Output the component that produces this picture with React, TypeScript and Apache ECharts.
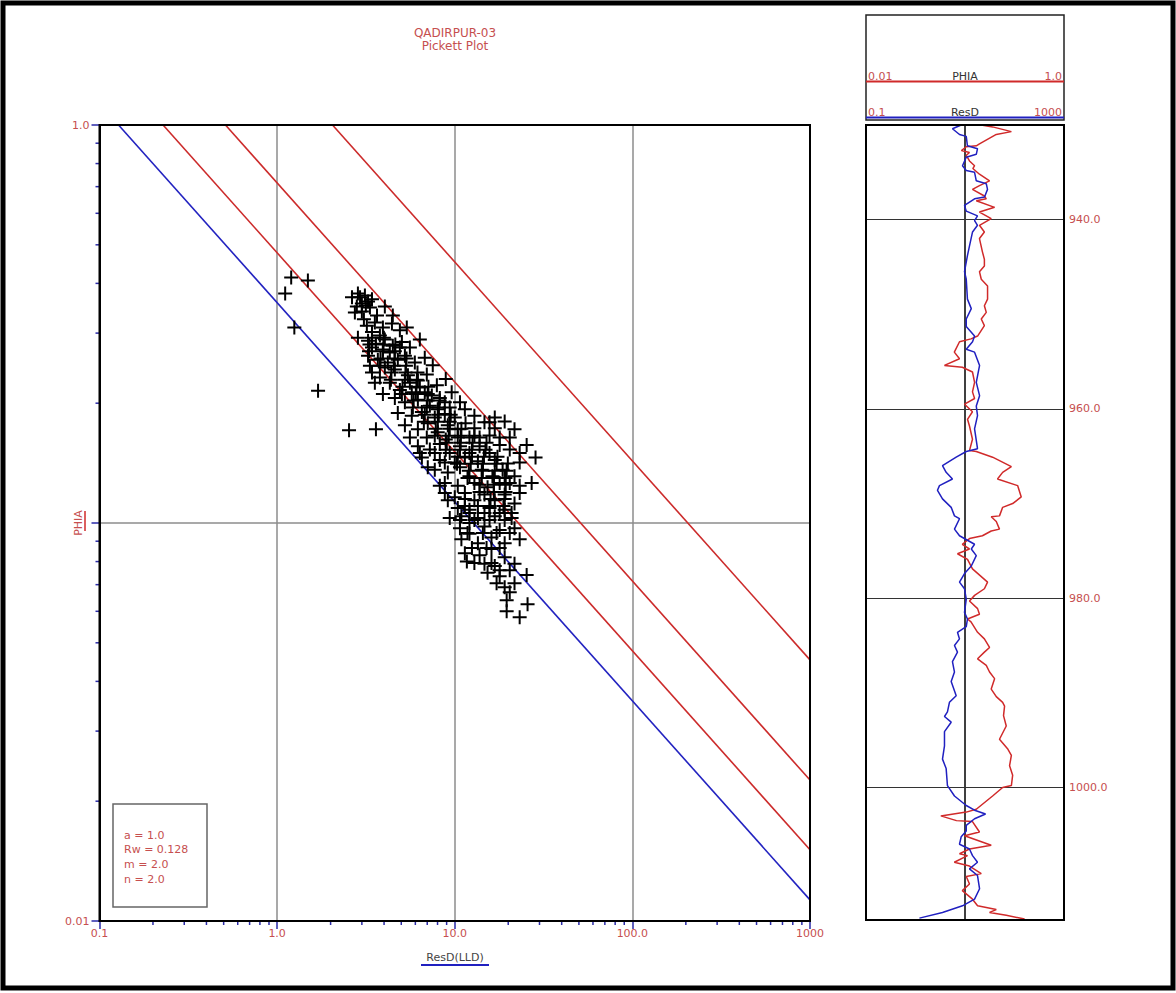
import React, { useEffect, useRef } from 'react';
import * as echarts from 'echarts';

// ---------- text ----------
const titleLines = ['QADIRPUR-03', 'Pickett Plot'];
const paramLines = ['a = 1.0', 'Rw = 0.128', 'm = 2.0', 'n = 2.0'];
const resdTickLabels: Record<string, string> = { '-1': '0.1', '0': '1.0', '1': '10.0', '2': '100.0', '3': '1000' };
const phiaTickLabels: Record<string, string> = { '0': '1.0', '-2': '0.01' };
const minorMultipliers = [2, 3, 4, 5, 6, 7, 8, 9];
const resdDecades = [0.1, 1, 10, 100];
const phiaDecades = [0.01, 0.1];
const depthTicks = [940, 960, 980, 1000];

// ---------- Sw lines (a=1, Rw=0.128, m=2, n=2) : Sw = 1.0, 0.75, 0.5, 0.25 ----------
const swNames = ['Sw 1.0', 'Sw 0.75', 'Sw 0.5', 'Sw 0.25'];
const swLineStartResD = [0.128, 0.228, 0.512, 2.05]; // ResD where PHIA = 1.0
const swLineEndPhia = [0.0113, 0.0151, 0.0226, 0.0453]; // PHIA where ResD = 1000
const swLineColors = ['#2323c0', '#cc2b2b', '#cc2b2b', '#cc2b2b'];

// ---------- crossplot points [ResD, PHIA] ----------
const scatterPoints: [number, number][] = [
  [1.20, 0.414], [1.49, 0.407], [1.11, 0.377], [1.25, 0.310], [1.70, 0.215], [2.54, 0.171], [3.60, 0.172],
  [2.93, 0.369], [3.12, 0.373], [3.25, 0.360], [2.81, 0.350], [3.00, 0.356], [2.74, 0.338], [3.42, 0.365], [4.04, 0.350], [4.48, 0.332],
  [3.20, 0.313], [3.55, 0.319], [3.94, 0.310], [4.43, 0.317], [4.91, 0.305], [5.37, 0.310], [3.42, 0.302], [3.79, 0.296],
  [3.25, 0.287], [3.60, 0.282], [4.04, 0.289], [4.48, 0.279], [5.04, 0.285], [5.59, 0.276], [6.36, 0.289], [4.31, 0.268],
  [3.25, 0.263], [3.69, 0.257], [4.78, 0.257], [5.24, 0.263], [5.96, 0.253], [6.78, 0.260], [7.52, 0.249], [4.04, 0.246], [4.60, 0.243], [3.42, 0.239],
  [3.79, 0.232], [4.31, 0.225], [5.45, 0.235], [6.20, 0.228], [6.96, 0.236], [7.93, 0.222], [8.90, 0.230], [4.91, 0.216], [5.73, 0.213], [6.78, 0.213], [4.60, 0.206],
  [5.24, 0.201], [6.20, 0.204], [7.24, 0.197], [8.24, 0.206], [9.37, 0.195], [10.7, 0.201], [4.78, 0.189], [5.73, 0.186], [6.53, 0.190], [7.72, 0.184], [8.79, 0.188], [10.0, 0.184],
  [5.24, 0.176], [6.20, 0.172], [7.05, 0.178], [8.02, 0.169], [9.14, 0.176], [10.4, 0.172], [11.5, 0.178], [12.9, 0.173], [14.7, 0.179], [16.8, 0.173], [19.1, 0.180], [21.7, 0.172],
  [6.96, 0.164], [8.90, 0.162], [12.1, 0.164], [15.7, 0.166],
  [6.20, 0.156], [7.24, 0.153], [8.24, 0.158], [9.37, 0.150], [10.7, 0.156], [12.1, 0.150], [13.8, 0.156], [15.7, 0.150], [17.9, 0.157], [20.4, 0.153], [25.4, 0.157], [28.5, 0.146],
  [6.53, 0.146], [8.24, 0.144], [10.0, 0.142], [11.4, 0.146], [13.5, 0.143], [16.8, 0.144], [19.9, 0.141],
  [7.72, 0.136], [9.14, 0.134], [10.7, 0.138], [12.1, 0.131], [14.2, 0.136], [16.3, 0.131], [18.6, 0.136], [21.7, 0.131], [27.1, 0.126],
  [8.79, 0.126], [10.4, 0.124], [12.9, 0.126], [15.3, 0.123], [17.9, 0.126],
  [8.79, 0.119], [10.0, 0.116], [11.4, 0.119], [12.9, 0.114], [14.7, 0.118], [16.8, 0.114], [19.1, 0.118], [21.7, 0.112],
  [10.4, 0.109], [12.1, 0.108], [15.7, 0.109], [19.1, 0.108],
  [10.9, 0.104], [13.5, 0.103], [16.8, 0.104], [20.9, 0.103], [10.7, 0.097], [12.1, 0.094], [14.7, 0.098], [17.9, 0.096], [21.7, 0.097],
  [10.9, 0.091], [13.5, 0.089], [16.1, 0.092], [19.1, 0.089], [23.2, 0.091],
  [11.4, 0.084], [13.8, 0.083], [16.1, 0.086], [19.1, 0.082], [11.7, 0.080], [14.7, 0.079], [16.8, 0.078],
  [17.9, 0.0735], [25.4, 0.074], [19.1, 0.069], [20.4, 0.067], [19.6, 0.064], [25.7, 0.0625], [19.6, 0.060], [23.2, 0.058],
  [3.42, 0.276], [3.94, 0.273], [4.91, 0.276], [4.20, 0.253], [5.59, 0.225], [6.36, 0.219], [7.43, 0.209], [8.79, 0.201], [9.61, 0.213],
  [8.02, 0.193], [11.4, 0.193], [12.9, 0.186], [10.4, 0.164], [13.8, 0.164], [17.9, 0.164], [7.72, 0.150], [8.79, 0.142], [23.2, 0.142],
  [20.4, 0.126], [23.2, 0.119], [9.37, 0.103], [12.1, 0.100], [15.3, 0.075], [21.7, 0.079],
  // dense core of the band
  [2.85, 0.292], [3.42, 0.292], [3.99, 0.292], [3.31, 0.281], [3.97, 0.281], [4.63, 0.281],
  [3.29, 0.270], [3.94, 0.270], [4.60, 0.270], [3.82, 0.259], [4.58, 0.259], [5.35, 0.259],
  [3.79, 0.2485], [4.54, 0.2485], [5.31, 0.2485], [4.40, 0.2387], [5.28, 0.2387], [6.17, 0.2387],
  [4.37, 0.229], [5.24, 0.229], [6.12, 0.229], [5.08, 0.220], [6.09, 0.220], [7.11, 0.220],
  [5.04, 0.211], [6.04, 0.211], [7.05, 0.211], [5.87, 0.203], [7.03, 0.203], [8.22, 0.203],
  [5.81, 0.195], [6.96, 0.195], [8.13, 0.195], [6.78, 0.187], [8.13, 0.187], [9.49, 0.187],
  [6.70, 0.1797], [8.03, 0.1797], [9.37, 0.1797], [7.82, 0.1725], [9.37, 0.1725], [10.9, 0.1725],
  [7.72, 0.1657], [9.25, 0.1657], [10.8, 0.1657], [12.9, 0.1657], [9.02, 0.159], [10.8, 0.159], [12.6, 0.159], [15.1, 0.159],
  [8.90, 0.1527], [10.7, 0.1527], [12.5, 0.1527], [14.9, 0.1527], [10.4, 0.1467], [12.5, 0.1467], [14.6, 0.1467], [17.4, 0.1467],
  [10.3, 0.1409], [12.3, 0.1409], [14.4, 0.1409], [17.2, 0.1409], [12.0, 0.1352], [14.4, 0.1352], [16.8, 0.1352], [19.6, 0.1352],
  [11.8, 0.1298], [14.2, 0.1298], [16.6, 0.1298], [19.3, 0.1298], [13.8, 0.1247], [16.6, 0.1247], [19.3, 0.1247],
  [13.8, 0.1197], [16.6, 0.1197], [19.3, 0.1197], [15.9, 0.1149], [19.1, 0.1149], [11.4, 0.1149],
  [15.7, 0.1103], [18.8, 0.1103], [11.4, 0.1103], [13.5, 0.1103], [12.1, 0.106], [14.7, 0.106], [17.9, 0.106], [20.9, 0.106],
  [10.7, 0.1018], [12.9, 0.1018], [15.7, 0.1018], [19.1, 0.1018], [11.8, 0.0944], [14.4, 0.0944], [17.2, 0.0944], [20.4, 0.0944],
  [12.5, 0.0865], [15.1, 0.0865], [17.9, 0.0865], [12.9, 0.0793], [16.1, 0.0793], [17.9, 0.0761], [20.4, 0.0761],
  [17.2, 0.0706], [21.7, 0.0706],
  [2.64, 0.369], [2.85, 0.377], [3.16, 0.352], [3.00, 0.340], [3.33, 0.348], [3.65, 0.332], [3.08, 0.325],
  [3.33, 0.2485], [3.55, 0.225], [3.94, 0.211],
  [5.59, 0.164], [6.36, 0.150], [7.05, 0.138], [8.24, 0.124], [9.14, 0.114],
  [16.8, 0.184], [20.4, 0.164], [23.2, 0.150], [19.1, 0.130], [23.2, 0.124], [15.7, 0.179],
];

// ---------- depth track curves [depth, value] ----------
const depthPhia: [number, number][] = [
  [930.0, 0.146], [930.2, 0.190], [930.7, 0.294], [931.0, 0.207], [932.0, 0.140], [932.2, 0.130], [932.3, 0.103], [932.7, 0.092],
  [932.9, 0.111], [933.2, 0.103], [933.8, 0.111], [934.3, 0.125], [934.6, 0.120], [935.2, 0.140], [935.9, 0.177], [936.4, 0.140],
  [936.8, 0.119], [937.5, 0.157], [937.8, 0.164], [938.0, 0.130], [938.7, 0.199], [939.2, 0.140], [939.9, 0.184], [940.6, 0.140],
  [941.3, 0.157], [942.0, 0.140], [943.4, 0.150], [944.2, 0.157], [944.9, 0.157], [945.5, 0.140], [946.3, 0.146], [947.0, 0.169],
  [948.4, 0.169], [949.1, 0.157], [949.8, 0.164], [950.5, 0.146], [951.2, 0.157], [952.3, 0.134], [952.6, 0.115], [952.9, 0.088],
  [954.0, 0.078], [954.7, 0.088], [955.4, 0.062], [955.6, 0.094], [956.1, 0.119], [957.2, 0.125], [958.2, 0.119], [958.9, 0.125],
  [959.5, 0.099], [960.3, 0.119], [961.1, 0.106], [961.8, 0.111], [963.2, 0.119], [964.4, 0.111], [964.5, 0.130], [965.1, 0.190],
  [966.1, 0.294], [966.7, 0.240], [967.4, 0.213], [968.1, 0.340], [969.3, 0.370], [970.0, 0.303], [970.4, 0.240], [971.3, 0.223],
  [971.4, 0.184], [971.9, 0.207], [972.7, 0.223], [972.9, 0.184], [973.4, 0.150], [973.7, 0.111], [974.3, 0.094], [974.8, 0.111],
  [975.3, 0.084], [975.9, 0.106], [976.9, 0.119], [978.3, 0.169], [979.0, 0.157], [979.7, 0.125], [980.3, 0.111], [981.1, 0.134],
  [981.7, 0.140], [982.2, 0.106], [982.5, 0.115], [983.6, 0.134], [984.3, 0.157], [985.2, 0.177], [985.7, 0.157], [986.4, 0.134],
  [987.1, 0.164], [987.8, 0.177], [988.5, 0.199], [989.6, 0.184], [990.4, 0.207], [991.0, 0.240], [991.4, 0.251], [992.4, 0.245],
  [993.5, 0.261], [994.9, 0.223], [995.9, 0.269], [996.6, 0.294], [997.7, 0.282], [998.7, 0.303], [999.8, 0.294], [1000.0, 0.240],
  [1000.9, 0.190], [1002.3, 0.130], [1002.6, 0.103], [1003.0, 0.057], [1003.5, 0.082], [1003.6, 0.119], [1004.7, 0.140], [1005.1, 0.099],
  [1006.1, 0.184], [1006.5, 0.111], [1007.0, 0.088], [1007.2, 0.106], [1007.9, 0.078], [1008.3, 0.111], [1009.1, 0.146], [1009.4, 0.103],
  [1010.2, 0.111], [1010.9, 0.094], [1011.8, 0.119], [1012.5, 0.134], [1012.9, 0.207], [1013.2, 0.177], [1013.5, 0.261], [1013.9, 0.400],
];

const depthResd: [number, number][] = [
  [930.0, 8.38], [930.4, 5.58], [931.0, 7.74], [931.2, 10.6], [932.2, 11.2], [932.5, 17.9], [933.1, 16.9], [933.4, 10.6],
  [934.3, 8.90], [934.8, 10.6], [935.0, 15.6], [935.9, 16.9], [936.2, 26.9], [936.8, 28.5], [937.6, 24.8], [937.8, 15.6],
  [938.5, 9.77], [939.1, 10.6], [939.6, 17.9], [940.1, 15.6], [940.6, 17.9], [941.3, 14.2], [942.8, 12.3], [943.8, 11.2],
  [945.5, 9.77], [946.3, 10.6], [948.4, 11.2], [949.4, 13.4], [950.5, 10.6], [951.3, 10.6], [952.3, 15.6], [952.9, 14.2],
  [953.7, 10.6], [954.0, 15.6], [955.4, 19.7], [957.2, 16.9], [958.6, 19.7], [959.7, 16.9], [960.7, 17.9], [962.1, 15.6],
  [964.2, 17.9], [964.5, 10.6], [965.1, 6.64], [966.0, 3.51], [966.7, 4.16], [967.4, 5.58], [968.1, 3.05], [968.6, 2.78],
  [969.5, 3.51], [970.4, 5.26], [971.3, 6.13], [971.6, 7.74], [972.7, 6.13], [973.4, 7.74], [974.3, 15.6], [974.8, 13.4],
  [975.5, 16.9], [976.6, 13.4], [977.4, 9.77], [978.3, 7.74], [979.0, 9.77], [980.1, 10.6], [981.5, 9.77], [982.2, 11.2],
  [983.0, 10.6], [983.6, 7.05], [984.3, 7.74], [985.0, 6.13], [985.7, 7.05], [986.7, 5.58], [987.8, 6.13], [988.8, 5.26],
  [990.3, 6.64], [991.0, 4.85], [992.0, 4.42], [992.5, 3.85], [993.1, 5.26], [994.1, 3.85], [995.6, 3.85], [997.0, 3.51],
  [998.0, 4.16], [999.8, 4.42], [1000.9, 6.13], [1001.9, 10.6], [1002.4, 15.6], [1002.8, 26.0], [1003.3, 15.6], [1004.0, 10.6],
  [1004.6, 10.6], [1005.2, 8.38], [1006.0, 7.74], [1006.5, 12.3], [1007.2, 14.2], [1007.9, 17.9], [1008.6, 12.3], [1009.3, 17.9],
  [1010.7, 19.7], [1011.8, 15.6], [1012.5, 8.90], [1013.2, 3.51], [1013.8, 1.20],
];

// ---------- styling ----------
const RED_TEXT = '#c64f4f';
const TICK_BLUE = '#2a2aa8';
const CURVE_RED = '#d02a2a';
const CURVE_BLUE = '#2020c0';
const FONT = '"DejaVu Sans", "Liberation Sans", Arial, sans-serif';

const MAIN = { left: 99.5, top: 125, width: 710.5, height: 796 };
const TRACK = { left: 866, top: 125, width: 198, height: 795 };

const xMinor: number[] = [];
resdDecades.forEach((d) => minorMultipliers.forEach((m) => xMinor.push(d * m)));
const yMinor: number[] = [];
phiaDecades.forEach((d) => minorMultipliers.forEach((m) => yMinor.push(d * m)));

function buildOption(): any {
  const txt = (text: string, x: number, y: number, fill: string, align = 'left', size = 11, extra: any = {}) => ({
    type: 'text',
    x,
    y,
    silent: true,
    ...extra,
    style: {
      text,
      fill,
      font: `${size}px ${FONT}`,
      align,
      verticalAlign: 'middle',
      textAlign: align,
      textVerticalAlign: 'middle',
    },
  });
  const ln = (x1: number, y1: number, x2: number, y2: number, stroke: string, lineWidth: number) => ({
    type: 'line',
    silent: true,
    shape: { x1, y1, x2, y2 },
    style: { stroke, lineWidth },
  });

  const graphics: any[] = [
    { type: 'rect', silent: true, shape: { x: 3, y: 3, width: 1170, height: 985 }, style: { fill: 'none', stroke: '#000', lineWidth: 5 } },
    // plot frames drawn above the grey decade lines
    { type: 'rect', silent: true, z: 50, shape: { x: MAIN.left, y: MAIN.top, width: MAIN.width, height: MAIN.height }, style: { fill: 'none', stroke: '#000', lineWidth: 2 } },
    { type: 'rect', silent: true, z: 50, shape: { x: TRACK.left, y: TRACK.top, width: TRACK.width, height: TRACK.height }, style: { fill: 'none', stroke: '#000', lineWidth: 2 } },
    txt(titleLines[0], 455, 33, RED_TEXT, 'center', 12),
    txt(titleLines[1], 455, 46, RED_TEXT, 'center', 12),
    // parameter box
    { type: 'rect', silent: true, shape: { x: 113, y: 804, width: 94, height: 103 }, style: { fill: '#fff', stroke: '#666', lineWidth: 1.5 } },
    ...paramLines.map((p, i) => txt(p, 124, 835 + i * 14.8, RED_TEXT, 'left', 11)),
    // PHIA rotated axis name
    txt('PHIA', 78, 523, RED_TEXT, 'center', 11, { rotation: Math.PI / 2 }),
    ln(85, 511, 85, 531, CURVE_RED, 1.5),
    // ResD axis name
    txt('ResD(LLD)', 455, 957, '#444', 'center', 11),
    ln(421, 965, 489, 965, CURVE_BLUE, 2),
    // track header
    { type: 'rect', silent: true, shape: { x: 866, y: 15, width: 198, height: 105 }, style: { fill: 'none', stroke: '#222', lineWidth: 1.5 } },
    ln(866, 81.5, 1064, 81.5, CURVE_RED, 2),
    txt('0.01', 868, 76, RED_TEXT, 'left', 11),
    txt('PHIA', 965, 76, '#333', 'center', 11),
    txt('1.0', 1062, 76, RED_TEXT, 'right', 11),
    ln(866, 117.5, 1064, 117.5, CURVE_BLUE, 2),
    txt('0.1', 868, 112, RED_TEXT, 'left', 11),
    txt('ResD', 965, 112, '#333', 'center', 11),
    txt('1000', 1062, 112, RED_TEXT, 'right', 11),
  ];

  const logLabel = (map: Record<string, string>) => (v: number) => {
    const e = String(Math.round(Math.log10(v)));
    return map[e] ?? '';
  };

  const series: any[] = [];
  swNames.forEach((name, i) => {
    series.push({
      name,
      type: 'line',
      xAxisIndex: 0,
      yAxisIndex: 0,
      data: [
        [swLineStartResD[i], 1.0],
        [1000, swLineEndPhia[i]],
      ],
      showSymbol: false,
      symbol: 'none',
      lineStyle: { color: swLineColors[i], width: 1.6 },
      z: 2,
      silent: true,
    });
  });
  series.push({
    name: 'PHIA vs ResD',
    type: 'scatter',
    xAxisIndex: 0,
    yAxisIndex: 0,
    data: scatterPoints,
    symbol: 'path://M0,5L10,5M5,0L5,10',
    symbolSize: 14,
    itemStyle: { color: 'transparent', borderColor: '#000', borderWidth: 2, opacity: 1 },
    z: 4,
    silent: true,
  });
  // minor ticks drawn through the axes' scales
  series.push({
    type: 'custom',
    xAxisIndex: 0,
    yAxisIndex: 0,
    clip: false,
    silent: true,
    z: 6,
    data: xMinor.map((v) => [v, 0.01]),
    renderItem: (_p: any, api: any) => {
      const p = api.coord([api.value(0), api.value(1)]);
      return { type: 'line', shape: { x1: p[0], y1: p[1], x2: p[0], y2: p[1] + 4 }, style: { stroke: TICK_BLUE, lineWidth: 1.5 } };
    },
  });
  series.push({
    type: 'custom',
    xAxisIndex: 0,
    yAxisIndex: 0,
    clip: false,
    silent: true,
    z: 6,
    data: yMinor.map((v) => [0.1, v]),
    renderItem: (_p: any, api: any) => {
      const p = api.coord([api.value(0), api.value(1)]);
      return { type: 'line', shape: { x1: p[0] - 4, y1: p[1], x2: p[0], y2: p[1] }, style: { stroke: TICK_BLUE, lineWidth: 1.5 } };
    },
  });
  series.push({
    name: 'PHIA',
    type: 'line',
    xAxisIndex: 1,
    yAxisIndex: 1,
    data: depthPhia.map(([d, v]) => [v, d]),
    showSymbol: false,
    symbol: 'none',
    lineStyle: { color: CURVE_RED, width: 1.5 },
    z: 3,
    silent: true,
    markLine: {
      silent: true,
      symbol: ['none', 'none'],
      label: { show: false },
      lineStyle: { color: '#333', width: 1, type: 'solid' },
      data: depthTicks.map((d) => ({ yAxis: d })),
      z: 1,
    },
  });
  series.push({
    name: 'ResD',
    type: 'line',
    xAxisIndex: 2,
    yAxisIndex: 1,
    data: depthResd.map(([d, v]) => [v, d]),
    showSymbol: false,
    symbol: 'none',
    lineStyle: { color: CURVE_BLUE, width: 1.5 },
    z: 3,
    silent: true,
  });

  return {
    animation: false,
    backgroundColor: '#fff',
    textStyle: { fontFamily: FONT },
    grid: [
      { ...MAIN, show: false },
      { ...TRACK, show: false },
    ],
    xAxis: [
      {
        type: 'log',
        logBase: 10,
        gridIndex: 0,
        min: 0.1,
        max: 1000,
        axisLine: { lineStyle: { color: '#000', width: 2 } },
        axisTick: { length: 8, lineStyle: { color: TICK_BLUE, width: 1.5 } },
        axisLabel: { formatter: logLabel(resdTickLabels), color: RED_TEXT, fontSize: 11, margin: 7, fontFamily: FONT },
        splitLine: { show: true, lineStyle: { color: '#8c8c8c', width: 1.5 } },
      },
      {
        type: 'log',
        logBase: 10,
        gridIndex: 1,
        min: 0.01,
        max: 1,
        position: 'top',
        axisLine: { show: false },
        axisTick: { show: false },
        axisLabel: { show: false },
        splitLine: { show: true, lineStyle: { color: '#000', width: 1.5 } },
      },
      {
        type: 'log',
        logBase: 10,
        gridIndex: 1,
        min: 0.1,
        max: 1000,
        position: 'bottom',
        show: false,
      },
    ],
    yAxis: [
      {
        type: 'log',
        logBase: 10,
        gridIndex: 0,
        min: 0.01,
        max: 1,
        axisLine: { lineStyle: { color: '#000', width: 2 } },
        axisTick: { length: 8, lineStyle: { color: TICK_BLUE, width: 1.5 } },
        axisLabel: { formatter: logLabel(phiaTickLabels), color: RED_TEXT, fontSize: 11, margin: 10, fontFamily: FONT },
        splitLine: { show: true, lineStyle: { color: '#8c8c8c', width: 1.5 } },
      },
      {
        type: 'value',
        gridIndex: 1,
        min: 930,
        max: 1014,
        interval: 10,
        inverse: true,
        position: 'right',
        axisLine: { show: false },
        axisTick: { show: false },
        splitLine: { show: false },
        axisLabel: {
          color: RED_TEXT,
          fontSize: 11,
          margin: 5,
          fontFamily: FONT,
          showMinLabel: false,
          showMaxLabel: false,
          formatter: (v: number) => (depthTicks.indexOf(v) >= 0 ? v.toFixed(1) : ''),
        },
      },
    ],
    graphic: { elements: graphics },
    series,
  };
}

export default function App() {
  const ref = useRef<HTMLDivElement>(null);
  useEffect(() => {
    if (!ref.current) return;
    const chart = echarts.init(ref.current, undefined, { renderer: 'svg' });
    chart.setOption(buildOption());
    return () => chart.dispose();
  }, []);
  return (
    <div
      ref={ref}
      style={{ position: 'absolute', left: 0, top: 0, width: 1176, height: 993, background: '#fff' }}
    />
  );
}
